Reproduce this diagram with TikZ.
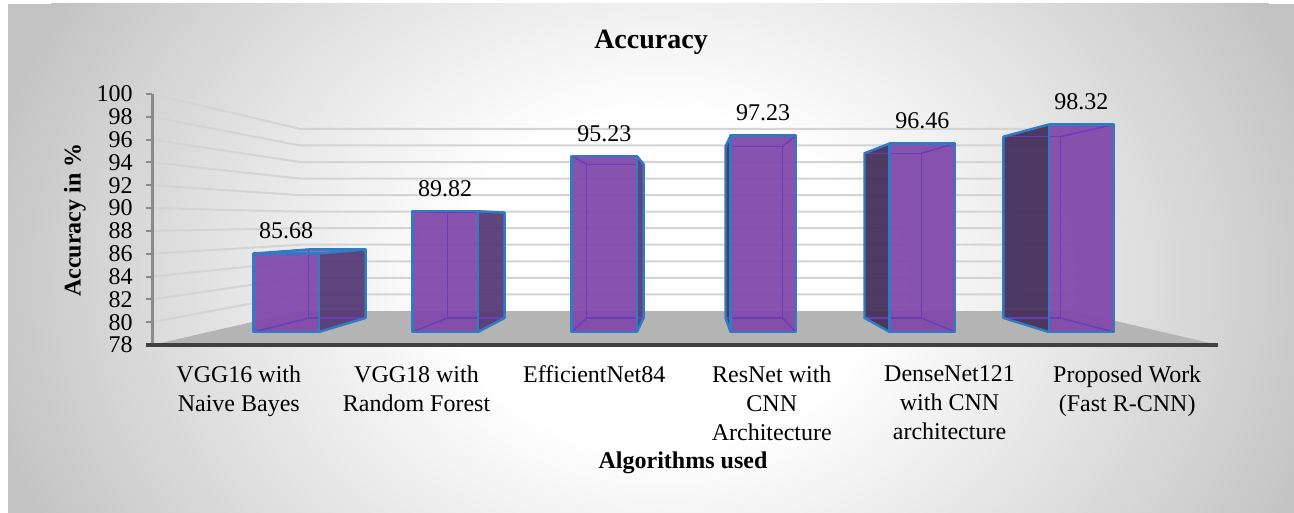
\documentclass[tikz,border=0pt]{standalone}
\usepackage{fontspec}
\setmainfont{Liberation Serif}
\usetikzlibrary{calc}

\definecolor{bggray}{HTML}{C2C2C2}
\definecolor{bgmid}{HTML}{E6E6E6}
\definecolor{bgouter}{HTML}{D0D0D0}
\definecolor{gridgray}{HTML}{D4D4D4}
\definecolor{floorgray}{HTML}{B4B4B4}
\definecolor{barfront}{HTML}{814AAA}
\definecolor{barside}{HTML}{573A77}
\definecolor{barsidedark}{HTML}{45305A}
\definecolor{bartop}{HTML}{9462BE}
\definecolor{baredge}{HTML}{2F7CC2}
\definecolor{barinner}{HTML}{6A3CB8}
\definecolor{axisdark}{HTML}{404040}
\definecolor{axisgray}{HTML}{8A8A8A}

% soft glow behind the chart (the path edge sits at 25bp)
\pgfdeclareradialshading{bgglow}{\pgfpoint{0bp}{0bp}}{%
  color(0bp)=(white); color(7.5bp)=(white); color(15bp)=(bgmid);
  color(21.25bp)=(bgouter); color(25bp)=(bggray); color(50bp)=(bggray)}

% perspective: vanishing point (690,221); k = depth scale (1 = front wall)
\pgfmathdeclarefunction{projx}{2}{\pgfmathparse{690+#2*(#1-690)}}
\pgfmathdeclarefunction{projy}{2}{\pgfmathparse{221+#2*(#1-221)}}

\begin{document}
\begin{tikzpicture}[x=0.5pt,y=-0.5pt,
  every node/.style={font=\fontsize{12}{14.5}\selectfont, inner sep=0pt},
  gridline/.style={draw=gridgray, line width=1pt},
  floorfill/.style={fill=floorgray},
  yaxisline/.style={draw=axisgray, line width=1.5pt},
  xaxisline/.style={draw=axisdark, line width=1.6pt},
  frontface/.style={fill=barfront, fill opacity=0.95},
  topface/.style={fill=bartop, fill opacity=0.95},
  sideR/.style={fill=barside, fill opacity=0.95},
  sideL/.style={fill=barsidedark, fill opacity=0.95},
  inneredge/.style={draw=barinner, line width=0.7pt},
  outeredge/.style={draw=baredge, line width=1.2pt, line join=round},
  ticklabel/.style={anchor=east},
  vallabel/.style={anchor=base},
  catlabel/.style={anchor=north, align=center},
  charttitle/.style={font=\fontsize{14}{17}\selectfont\bfseries},
  axistitle/.style={font=\fontsize{12}{14.5}\selectfont\bfseries}]

\useasboundingbox (0,0) rectangle (1294,513);
\fill[white] (0,0) rectangle (1294,513);
\begin{scope}
  \clip (8,4) rectangle (1294,513);
  \fill[bggray] (8,4) rectangle (1294,513);
  \shade[shading=bgglow] (660,280) ellipse (350pt and 280pt);
\end{scope}

% floor
\fill[floorfill] (152,345) -- (300,311) -- (1073,311) -- (1218,345) -- cycle;

% grid lines on the side and back walls
\foreach \v in {80,82,...,100} {
  \pgfmathsetmacro\yf{345-11.409*(\v-78)}
  \pgfmathsetmacro\yk{221+0.725*(\yf-221)}
  \draw[gridline] (152,\yf) -- (300,\yk) -- (1073,\yk);
}

% value axis with ticks and labels
\draw[yaxisline] (152,94) -- (152,346);
\foreach \v in {78,80,...,100} {
  \pgfmathsetmacro\yf{345-11.409*(\v-78)}
  \draw[axisgray, line width=1pt] (146,\yf) -- (152,\yf);
  \node[ticklabel] (t\v) at (133,\yf) {\v};
}
\draw[xaxisline] (146,345) -- (1218,345);

% bars as transparent prisms
\foreach \c/\v/\s [count=\i] in {238.8/85.68/r, 416.5/89.82/r, 594.2/95.23/r,
                                  771.8/97.23/l, 949.5/96.46/l, 1127.2/98.32/l} {
  \pgfmathsetmacro\xl{\c-36.4}
  \pgfmathsetmacro\xr{\c+36.4}
  \pgfmathsetmacro\yt{345-11.409*(\v-78)}
  \coordinate (b\i-flb) at ({projx(\xl,0.895)},{projy(345,0.895)});
  \coordinate (b\i-frb) at ({projx(\xr,0.895)},{projy(345,0.895)});
  \coordinate (b\i-flt) at ({projx(\xl,0.895)},{projy(\yt,0.895)});
  \coordinate (b\i-frt) at ({projx(\xr,0.895)},{projy(\yt,0.895)});
  \coordinate (b\i-blb) at ({projx(\xl,0.782)},{projy(345,0.782)});
  \coordinate (b\i-brb) at ({projx(\xr,0.782)},{projy(345,0.782)});
  \coordinate (b\i-blt) at ({projx(\xl,0.782)},{projy(\yt,0.782)});
  \coordinate (b\i-brt) at ({projx(\xr,0.782)},{projy(\yt,0.782)});
  \if\s r
    \fill[sideR] (b\i-frb) -- (b\i-brb) -- (b\i-brt) -- (b\i-frt) -- cycle;
  \else
    \fill[sideL] (b\i-flb) -- (b\i-blb) -- (b\i-blt) -- (b\i-flt) -- cycle;
  \fi
  \pgfmathparse{\v<88.9 ? 1 : 0}
  \ifnum\pgfmathresult=1
    \fill[topface] (b\i-flt) -- (b\i-frt) -- (b\i-brt) -- (b\i-blt) -- cycle;
  \fi
  \fill[frontface] (b\i-flb) rectangle (b\i-frt);
  % edges seen through the faces
  \draw[inneredge] (b\i-blb) -- (b\i-brb) -- (b\i-brt) -- (b\i-blt) -- cycle;
  \draw[inneredge] (b\i-flb) -- (b\i-blb) (b\i-frb) -- (b\i-brb)
                   (b\i-flt) -- (b\i-blt) (b\i-frt) -- (b\i-brt);
  % silhouette edges
  \draw[outeredge] (b\i-flb) rectangle (b\i-frt);
  \if\s r
    \draw[outeredge] (b\i-frb) -- (b\i-brb) -- (b\i-brt) -- (b\i-frt);
  \else
    \draw[outeredge] (b\i-flb) -- (b\i-blb) -- (b\i-blt) -- (b\i-flt);
  \fi
  \ifnum\pgfmathresult=1
    \draw[outeredge] (b\i-flt) -- (b\i-blt) -- (b\i-brt);
  \fi
  \node[vallabel] (v\i) at ($(b\i-flt)!0.5!(b\i-frt)+(0,-15)$) {\v};
}

% category labels
\foreach \c/\txt [count=\i] in {238.8/{VGG16 with\\Naive Bayes},
    416.5/{VGG18 with\\Random Forest}, 594.2/{EfficientNet84},
    771.8/{ResNet with\\CNN\\Architecture},
    949.5/{DenseNet121\\with CNN\\architecture},
    1127.2/{Proposed Work\\(Fast R-CNN)}} {
  \node[catlabel] (c\i) at (\c,365) {\txt};
}

% titles
\node[charttitle] (title) at (651,42) {Accuracy};
\node[axistitle] (xtitle) at (683,463) {Algorithms used};
\node[axistitle, rotate=90] (ytitle) at (75,220) {Accuracy in \%};
\end{tikzpicture}
\end{document}
